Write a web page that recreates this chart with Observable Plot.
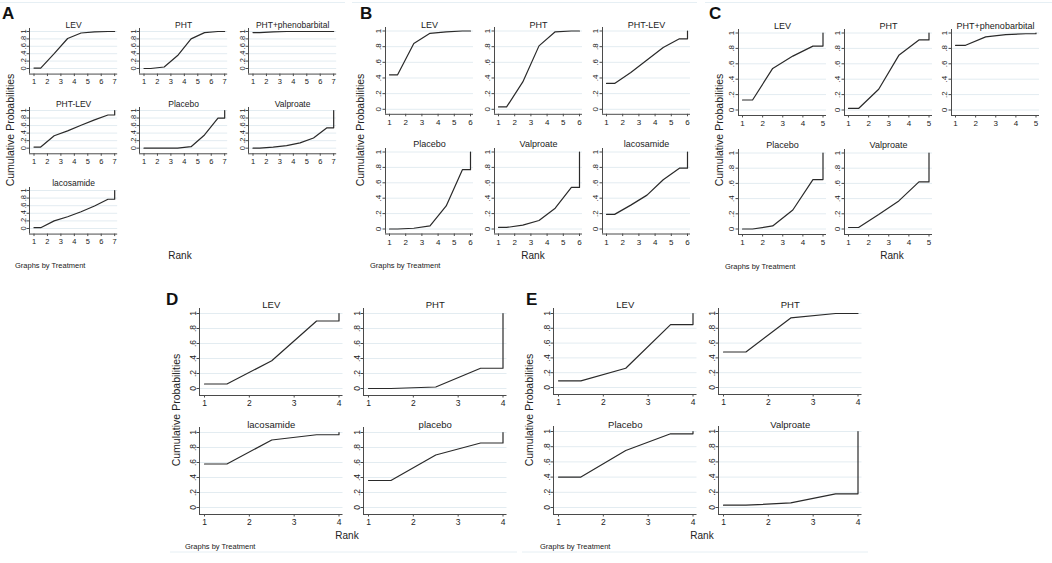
<!DOCTYPE html>
<html>
<head>
<meta charset="utf-8">
<script src="https://cdn.jsdelivr.net/npm/d3@7"></script>
<script src="https://cdn.jsdelivr.net/npm/@observablehq/plot@0.6"></script>
<style>
  html, body { margin: 0; padding: 0; background: #fff; }
  #chart { position: relative; width: 1052px; height: 563px; overflow: hidden; background: #fff;
           font-family: "Liberation Sans", Arial, sans-serif; }
</style>
</head>
<body>
<div id="chart"></div>
<script>
// ---------------- DATA ----------------
// Cumulative ranking probabilities for ranks 1..N (last value is always 1)
const probTicks = [0, 0.2, 0.4, 0.6, 0.8, 1];
const probTickLabels = ["0", ".2", ".4", ".6", ".8", "1"];

const ranksA = [1, 2, 3, 4, 5, 6, 7];
const treatmentsA = ["LEV", "PHT", "PHT+phenobarbital", "PHT-LEV", "Placebo", "Valproate", "lacosamide"];
const cumA_LEV        = [0.01, 0.40, 0.81, 0.96, 0.99, 1.00, 1.00];
const cumA_PHT        = [0.00, 0.04, 0.35, 0.80, 0.97, 1.00, 1.00];
const cumA_PHTpheno   = [0.97, 0.99, 1.00, 1.00, 1.00, 1.00, 1.00];
const cumA_PHTLEV     = [0.03, 0.33, 0.46, 0.61, 0.75, 0.88, 1.00];
const cumA_Placebo    = [0.00, 0.00, 0.00, 0.04, 0.35, 0.80, 1.00];
const cumA_Valproate  = [0.00, 0.03, 0.07, 0.14, 0.27, 0.54, 1.00];
const cumA_lacosamide = [0.02, 0.20, 0.31, 0.44, 0.59, 0.77, 1.00];

const ranksB = [1, 2, 3, 4, 5, 6];
const treatmentsB = ["LEV", "PHT", "PHT-LEV", "Placebo", "Valproate", "lacosamide"];
const cumB_LEV        = [0.44, 0.84, 0.97, 0.99, 1.00, 1.00];
const cumB_PHT        = [0.03, 0.35, 0.81, 0.99, 1.00, 1.00];
const cumB_PHTLEV     = [0.33, 0.47, 0.63, 0.79, 0.90, 1.00];
const cumB_Placebo    = [0.00, 0.01, 0.04, 0.30, 0.77, 1.00];
const cumB_Valproate  = [0.02, 0.05, 0.11, 0.27, 0.54, 1.00];
const cumB_lacosamide = [0.19, 0.31, 0.44, 0.64, 0.79, 1.00];

const ranksC = [1, 2, 3, 4, 5];
const treatmentsC = ["LEV", "PHT", "PHT+phenobarbital", "Placebo", "Valproate"];
const cumC_LEV        = [0.13, 0.54, 0.70, 0.83, 1.00];
const cumC_PHT        = [0.02, 0.27, 0.71, 0.91, 1.00];
const cumC_PHTpheno   = [0.84, 0.95, 0.98, 0.99, 1.00];
const cumC_Placebo    = [0.00, 0.04, 0.25, 0.65, 1.00];
const cumC_Valproate  = [0.02, 0.19, 0.37, 0.62, 1.00];

const ranksD = [1, 2, 3, 4];
const treatmentsD = ["LEV", "PHT", "lacosamide", "placebo"];
const cumD_LEV        = [0.06, 0.37, 0.90, 1.00];
const cumD_PHT        = [0.00, 0.02, 0.27, 1.00];
const cumD_lacosamide = [0.58, 0.90, 0.97, 1.00];
const cumD_placebo    = [0.36, 0.70, 0.86, 1.00];

const ranksE = [1, 2, 3, 4];
const treatmentsE = ["LEV", "PHT", "Placebo", "Valproate"];
const cumE_LEV        = [0.09, 0.26, 0.85, 1.00];
const cumE_PHT        = [0.48, 0.94, 1.00, 1.00];
const cumE_Placebo    = [0.40, 0.75, 0.97, 1.00];
const cumE_Valproate  = [0.03, 0.06, 0.18, 1.00];

const yAxisTitle = "Cumulative Probabilities";
const xAxisTitle = "Rank";
const noteText = "Graphs by Treatment";

// ---------------- LAYOUT ----------------
const GRID = "#e3ecf1", AXIS = "#4a4a4a", LINE = "#2a2a2a", TEXT = "#222";
const FONT = "'Liberation Sans', Arial, sans-serif";

const panels = [
  { letter: "A", names: treatmentsA, ranks: ranksA,
    cums: [cumA_LEV, cumA_PHT, cumA_PHTpheno, cumA_PHTLEV, cumA_Placebo, cumA_Valproate, cumA_lacosamide],
    ncol: 3, colX1: [33, 143.3, 252.7], span: 80.7, rowY1: [31, 110, 190], rowY0: [68, 147.7, 228],
    pad: {l: 4.5, r: 3, t: 3, b: 5.6}, tickFont: 7.5, titleFont: 8.5, titleGap: [10, 10, 10.5], yPad: 1.2, xPad: 2,
    letterX: 2, letterY: 19, yTitle: [9.5, 130], xTitle: [180, 255], note: [15, 265] },
  { letter: "B", names: treatmentsB, ranks: ranksB,
    cums: [cumB_LEV, cumB_PHT, cumB_PHTLEV, cumB_Placebo, cumB_Valproate, cumB_lacosamide],
    ncol: 3, colX1: [388.5, 497.5, 606], span: 81, rowY1: [30, 151], rowY0: [108.3, 228],
    pad: {l: 4, r: 3, t: 3.5, b: 5}, tickFont: 8, titleFont: 9, titleGap: [9.5, 11], yPad: 2, xPad: 2.5,
    letterX: 360, letterY: 19, yTitle: [360, 130], xTitle: [533, 255], note: [370, 265] },
  { letter: "C", names: treatmentsC, ranks: ranksC,
    cums: [cumC_LEV, cumC_PHT, cumC_PHTpheno, cumC_Placebo, cumC_Valproate],
    ncol: 3, colX1: [741.5, 848, 955], span: 80.5, rowY1: [32, 152], rowY0: [109, 228],
    pad: {l: 4, r: 3.5, t: 3.5, b: 5.5}, tickFont: 8, titleFont: 9, titleGap: [10, 11], yPad: 2, xPad: 2.5,
    letterX: 709, letterY: 19, yTitle: [719, 130], xTitle: [892, 255], note: [725, 266] },
  { letter: "D", names: treatmentsD, ranks: ranksD,
    cums: [cumD_LEV, cumD_PHT, cumD_lacosamide, cumD_placebo],
    ncol: 2, colX1: [204, 368], span: 134.5, rowY1: [313, 432], rowY0: [388, 507],
    pad: {l: 5, r: 4, t: 5, b: 7}, tickFont: 8.5, titleFont: 9.5, titleGap: [12.5, 11], yPad: 0.8, xPad: 2,
    letterX: 166, letterY: 305, yTitle: [176, 410], xTitle: [347, 535], note: [185, 546] },
  { letter: "E", names: treatmentsE, ranks: ranksE,
    cums: [cumE_LEV, cumE_PHT, cumE_Placebo, cumE_Valproate],
    ncol: 2, colX1: [558, 723], span: 134.5, rowY1: [313, 431], rowY0: [387, 507],
    pad: {l: 5, r: 4, t: 5, b: 7}, tickFont: 8.5, titleFont: 9.5, titleGap: [12.5, 10.5], yPad: 0.8, xPad: 2,
    letterX: 526, letterY: 305, yTitle: [529, 410], xTitle: [702, 535], note: [540, 546] }
];

const root = d3.select("#chart");
const overlay = root.append("svg")
  .attr("width", 1052).attr("height", 563)
  .style("position", "absolute").style("left", "0px").style("top", "0px")
  .style("font-family", FONT);

// faint graph-region borders
const borders = [[0, 345, 2.5], [352, 697, 2.5], [705, 1052, 2.5], [170, 517, 552], [522, 868, 552]];
overlay.selectAll("line.border").data(borders).join("line")
  .attr("x1", d => d[0]).attr("x2", d => d[1]).attr("y1", d => d[2]).attr("y2", d => d[2])
  .attr("stroke", "#e6eff4").attr("stroke-width", 1);

function stepPoints(ranks, cum) {
  const N = ranks.length;
  const pts = [{rank: ranks[0], p: cum[0]}];
  for (let k = 0; k < N - 1; k++) pts.push({rank: ranks[k] + 0.5, p: cum[k]});
  pts.push({rank: ranks[N - 1], p: cum[N - 2]});
  pts.push({rank: ranks[N - 1], p: cum[N - 1]});
  return pts;
}

for (const P of panels) {
  // panel texts
  overlay.append("text").attr("x", P.letterX).attr("y", P.letterY)
    .attr("font-size", 17).attr("font-weight", "bold").attr("fill", "#111").text(P.letter);
  overlay.append("text")
    .attr("transform", `translate(${P.yTitle[0]},${P.yTitle[1]}) rotate(-90)`)
    .attr("text-anchor", "middle").attr("dominant-baseline", "central")
    .attr("font-size", 10.5).attr("fill", TEXT).text(yAxisTitle);
  overlay.append("text").attr("x", P.xTitle[0]).attr("y", P.xTitle[1])
    .attr("text-anchor", "middle").attr("dominant-baseline", "central")
    .attr("font-size", 10).attr("fill", TEXT).text(xAxisTitle);
  overlay.append("text").attr("x", P.note[0]).attr("y", P.note[1])
    .attr("dominant-baseline", "central")
    .attr("font-size", 7.5).attr("fill", TEXT).text(noteText);

  const N = P.ranks.length;
  P.names.forEach((name, i) => {
    const col = i % P.ncol, row = Math.floor(i / P.ncol);
    const x1 = P.colX1[col], xN = x1 + P.span;
    const y1 = P.rowY1[row], y0 = P.rowY0[row];
    const pad = P.pad;
    const pxL = x1 - pad.l, pxR = xN + pad.r, pyT = y1 - pad.t, pyB = y0 + pad.b;
    const mL = 24, mR = 6, mT = 20, mB = 20;
    const width = mL + (pxR - pxL) + mR, height = mT + (pyB - pyT) + mB;
    const unitX = (N - 1) / (xN - x1), unitY = 1 / (y0 - y1);
    const xLo = P.ranks[0] - pad.l * unitX, xHi = P.ranks[N - 1] + pad.r * unitX;
    const yLo = 0 - pad.b * unitY, yHi = 1 + pad.t * unitY;

    const svg = Plot.plot({
      width, height, marginLeft: mL, marginRight: mR, marginTop: mT, marginBottom: mB,
      x: {domain: [P.ranks[0], P.ranks[N - 1]], insetLeft: pad.l, insetRight: pad.r},
      y: {domain: [0, 1], insetTop: pad.t, insetBottom: pad.b},
      style: {fontFamily: FONT, fontSize: P.tickFont + "px", color: TEXT, background: "transparent", overflow: "visible"},
      marks: [
        Plot.ruleY(probTicks, {x1: () => xLo, x2: () => xHi, stroke: GRID, strokeWidth: 1}),
        Plot.ruleX([xLo], {y1: () => yLo, y2: () => yHi, stroke: AXIS, strokeWidth: 1}),
        Plot.ruleY([yLo], {x1: () => xLo, x2: () => xHi, stroke: AXIS, strokeWidth: 1}),
        Plot.axisX({ticks: P.ranks, tickSize: 2.5, tickPadding: P.xPad, fontSize: P.tickFont, label: null,
                    tickFormat: d => String(d), stroke: AXIS}),
        Plot.axisY({ticks: probTicks, tickSize: 2.5, tickPadding: P.yPad, tickRotate: -90, fontSize: P.tickFont, label: null,
                    tickFormat: d => probTickLabels[probTicks.indexOf(d)], stroke: AXIS}),
        Plot.line(stepPoints(P.ranks, P.cums[i]), {x: "rank", y: "p", stroke: LINE, strokeWidth: 1.2}),
        Plot.text([name], {frameAnchor: "top", text: d => d, dy: -(P.titleGap[row] - pad.t),
                           fontSize: P.titleFont, fill: TEXT})
      ]
    });
    svg.style.position = "absolute";
    svg.style.left = (pxL - mL) + "px";
    svg.style.top = (pyT - mT) + "px";
    root.node().appendChild(svg);
  });
}
</script>
</body>
</html>
